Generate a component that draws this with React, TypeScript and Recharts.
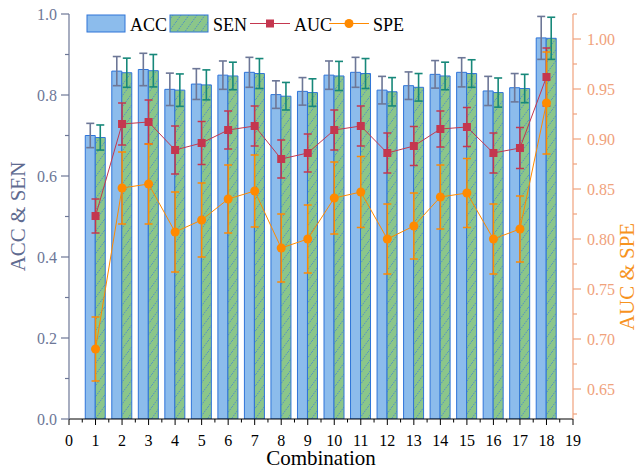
import React from "react";
import { Bar, ComposedChart, ErrorBar, Line, XAxis, YAxis } from "recharts";

// combination index on the x axis
const combos = [1, 2, 3, 4, 5, 6, 7, 8, 9, 10, 11, 12, 13, 14, 15, 16, 17, 18];

// left axis series (ACC & SEN)
const acc = [0.7, 0.859, 0.863, 0.814, 0.827, 0.849, 0.856, 0.801, 0.809, 0.849, 0.856, 0.812, 0.823, 0.851, 0.856, 0.81, 0.818, 0.941];
const accErr = [0.03, 0.036, 0.04, 0.04, 0.038, 0.035, 0.037, 0.034, 0.034, 0.035, 0.037, 0.034, 0.034, 0.034, 0.036, 0.036, 0.035, 0.053];
const sen = [0.695, 0.855, 0.86, 0.812, 0.825, 0.847, 0.853, 0.797, 0.806, 0.847, 0.853, 0.808, 0.819, 0.847, 0.853, 0.806, 0.816, 0.94];
const senErr = [0.031, 0.036, 0.04, 0.04, 0.037, 0.034, 0.037, 0.034, 0.034, 0.036, 0.037, 0.035, 0.034, 0.034, 0.034, 0.036, 0.035, 0.052];

// right axis series (AUC & SPE)
const auc = [0.823, 0.915, 0.917, 0.889, 0.896, 0.909, 0.913, 0.88, 0.886, 0.909, 0.913, 0.886, 0.893, 0.91, 0.912, 0.886, 0.891, 0.962];
const aucErr = [0.017, 0.021, 0.022, 0.024, 0.0215, 0.019, 0.02, 0.019, 0.019, 0.02, 0.02, 0.02, 0.0195, 0.018, 0.0195, 0.02, 0.0205, 0.029];
const spe = [0.69, 0.851, 0.855, 0.807, 0.819, 0.84, 0.848, 0.791, 0.8, 0.841, 0.847, 0.8, 0.813, 0.842, 0.846, 0.8, 0.81, 0.936];
const speErr = [0.032, 0.036, 0.04, 0.04, 0.037, 0.034, 0.036, 0.034, 0.034, 0.036, 0.0355, 0.035, 0.033, 0.032, 0.0345, 0.035, 0.033, 0.051];

// tick values
const xTicks = [0, 1, 2, 3, 4, 5, 6, 7, 8, 9, 10, 11, 12, 13, 14, 15, 16, 17, 18, 19];
const leftTicks = [0, 0.1, 0.2, 0.3, 0.4, 0.5, 0.6, 0.7, 0.8, 0.9, 1.0];
const rightTicks = [0.625, 0.65, 0.675, 0.7, 0.725, 0.75, 0.775, 0.8, 0.825, 0.85, 0.875, 0.9, 0.925, 0.95, 0.975, 1.0, 1.025];

const data = combos.map((c, i) => ({
  combo: c,
  acc: acc[i],
  accErr: accErr[i],
  sen: sen[i],
  senErr: senErr[i],
  auc: auc[i],
  aucErr: aucErr[i],
  spe: spe[i],
  speErr: speErr[i],
}));

const FONT = "Liberation Serif, serif";
const LEFT_COLOR = "#6d7797";
const LEFT_LABEL = "#5f6b90";
const RIGHT_COLOR = "#f0a27c";
const RIGHT_LABEL = "#f7931e";
const BAR_STROKE = "#2f74d8";
const ACC_FILL = "#8cbcec";
const SEN_FILL = "#8bc68a";
const AUC_COLOR = "#c4374f";
const SPE_COLOR = "#ff8a00";

const PLOT_LEFT = 69;
const PLOT_RIGHT = 573;
const HALF_STEP = (PLOT_RIGHT - PLOT_LEFT) / 19 / 2;

function XTick({ x, y, payload }: any) {
  const last = payload.value === 19;
  return (
    <g>
      <line x1={x} x2={x} y1={y} y2={y + 6} stroke="#000" />
      {!last && <line x1={x + HALF_STEP} x2={x + HALF_STEP} y1={y} y2={y + 3.5} stroke="#000" />}
      <text x={x} y={y + 27} textAnchor="middle" fontSize={16} fill="#000" fontFamily={FONT}>
        {payload.value}
      </text>
    </g>
  );
}

function LeftTick({ x, y, payload }: any) {
  const major = Math.round(payload.value * 10) % 2 === 0;
  return (
    <g>
      <line x1={x - (major ? 8 : 4)} x2={x} y1={y} y2={y} stroke={LEFT_COLOR} strokeWidth={1.2} />
      {major && (
        <text x={x - 12} y={y} dy="0.35em" textAnchor="end" fontSize={16} fill={LEFT_COLOR} fontFamily={FONT}>
          {payload.value.toFixed(1)}
        </text>
      )}
    </g>
  );
}

function RightTick({ x, y, payload }: any) {
  const major = Math.round(payload.value * 1000) % 50 === 0;
  return (
    <g>
      <line x1={x} x2={x + (major ? 8 : 4)} y1={y} y2={y} stroke={RIGHT_COLOR} strokeWidth={1.2} />
      {major && (
        <text x={x + 14} y={y} dy="0.35em" textAnchor="start" fontSize={16} fill={RIGHT_COLOR} fontFamily={FONT}>
          {payload.value.toFixed(2)}
        </text>
      )}
    </g>
  );
}

function RightLabel({ viewBox }: any) {
  const cx = viewBox.x + viewBox.width - 14;
  const cy = viewBox.y + viewBox.height / 2 + 60;
  return (
    <text
      x={cx}
      y={cy}
      transform={`rotate(-90 ${cx} ${cy})`}
      textAnchor="middle"
      dy="0.35em"
      fontSize={21}
      fill={RIGHT_LABEL}
      fontFamily={FONT}
    >
      AUC &amp; SPE
    </text>
  );
}

function SquareDot({ cx, cy, index }: any) {
  return <rect key={`sq-${index}`} x={cx - 4} y={cy - 4} width={8} height={8} fill={AUC_COLOR} />;
}

function CircleDot({ cx, cy, index }: any) {
  return <circle key={`ci-${index}`} cx={cx} cy={cy} r={4.5} fill={SPE_COLOR} />;
}

function Hatch({ id }: { id: string }) {
  return (
    <pattern id={id} patternUnits="userSpaceOnUse" width={8} height={11}>
      <rect width={8} height={11} fill={SEN_FILL} />
      <line x1={0} y1={11} x2={8} y2={0} stroke="#3d7fd6" strokeWidth={0.8} strokeDasharray="1.5 1" />
    </pattern>
  );
}

function LegendOverlay() {
  const txt = { fontSize: 18, fontFamily: FONT, fill: "#000" };
  return (
    <svg width={641} height={40} style={{ position: "absolute", left: 0, top: 0, pointerEvents: "none" }}>
      <defs>
        <Hatch id="hatchLegend" />
      </defs>
      <rect x={87} y={15} width={38} height={17} fill={ACC_FILL} stroke={BAR_STROKE} />
      <text x={130} y={31} {...txt}>ACC</text>
      <rect x={170} y={15} width={38} height={17} fill="url(#hatchLegend)" stroke={BAR_STROKE} />
      <text x={213} y={31} {...txt}>SEN</text>
      <line x1={250} x2={290} y1={23.5} y2={23.5} stroke={AUC_COLOR} />
      <rect x={266} y={19.5} width={8} height={8} fill={AUC_COLOR} />
      <text x={294} y={31} {...txt}>AUC</text>
      <line x1={329} x2={369} y1={23.5} y2={23.5} stroke={SPE_COLOR} />
      <circle cx={349} cy={23.5} r={4.5} fill={SPE_COLOR} />
      <text x={373} y={31} {...txt}>SPE</text>
    </svg>
  );
}

export default function App() {
  return (
    <div style={{ position: "relative", width: 641, height: 470, background: "#fff" }}>
      <style>{`body{margin:0}`}</style>
      <ComposedChart
        width={641}
        height={470}
        data={data}
        margin={{ top: 14, right: 0, bottom: 0, left: 0 }}
        barGap={0}
        style={{ fontFamily: FONT }}
      >
        <defs>
          <Hatch id="hatchSen" />
        </defs>
        <XAxis
          dataKey="combo"
          type="number"
          domain={[0, 19]}
          ticks={xTicks}
          interval={0}
          height={51}
          tickSize={0}
          tickMargin={0}
          tick={<XTick />}
          axisLine={{ stroke: "#000" }}
          label={{ value: "Combination", position: "insideBottom", offset: 5, fontSize: 21, fill: "#000", fontFamily: FONT }}
        />
        <YAxis
          yAxisId="left"
          orientation="left"
          width={69}
          domain={[0, 1]}
          ticks={leftTicks}
          interval={0}
          allowDataOverflow
          tickSize={0}
          tickMargin={0}
          tick={<LeftTick />}
          axisLine={{ stroke: LEFT_COLOR, strokeWidth: 1.2 }}
          label={{
            value: "ACC & SEN",
            angle: -90,
            position: "insideLeft",
            offset: 18,
            fontSize: 21,
            fill: LEFT_LABEL,
            fontFamily: FONT,
            style: { textAnchor: "middle" },
          }}
        />
        <YAxis
          yAxisId="right"
          orientation="right"
          width={68}
          domain={[0.62, 1.025]}
          ticks={rightTicks}
          interval={0}
          allowDataOverflow
          tickSize={0}
          tickMargin={0}
          tick={<RightTick />}
          axisLine={{ stroke: RIGHT_COLOR, strokeWidth: 1.2 }}
          label={<RightLabel />}
        />
        <Bar yAxisId="left" dataKey="acc" barSize={10} fill={ACC_FILL} stroke={BAR_STROKE} strokeWidth={1} isAnimationActive={false}>
          <ErrorBar dataKey="accErr" direction="y" width={4} stroke={LEFT_COLOR} strokeWidth={1.6} />
        </Bar>
        <Bar yAxisId="left" dataKey="sen" barSize={10} fill="url(#hatchSen)" stroke={BAR_STROKE} strokeWidth={1} isAnimationActive={false}>
          <ErrorBar dataKey="senErr" direction="y" width={4} stroke="#17887a" strokeWidth={1.6} />
        </Bar>
        <Line
          yAxisId="right"
          dataKey="auc"
          stroke={AUC_COLOR}
          strokeWidth={1}
          dot={<SquareDot />}
          activeDot={false}
          isAnimationActive={false}
        >
          <ErrorBar dataKey="aucErr" direction="y" width={4} stroke={AUC_COLOR} strokeWidth={1.5} />
        </Line>
        <Line
          yAxisId="right"
          dataKey="spe"
          stroke={SPE_COLOR}
          strokeWidth={1}
          dot={<CircleDot />}
          activeDot={false}
          isAnimationActive={false}
        >
          <ErrorBar dataKey="speErr" direction="y" width={4} stroke={SPE_COLOR} strokeWidth={1.5} />
        </Line>
      </ComposedChart>
      <LegendOverlay />
    </div>
  );
}
